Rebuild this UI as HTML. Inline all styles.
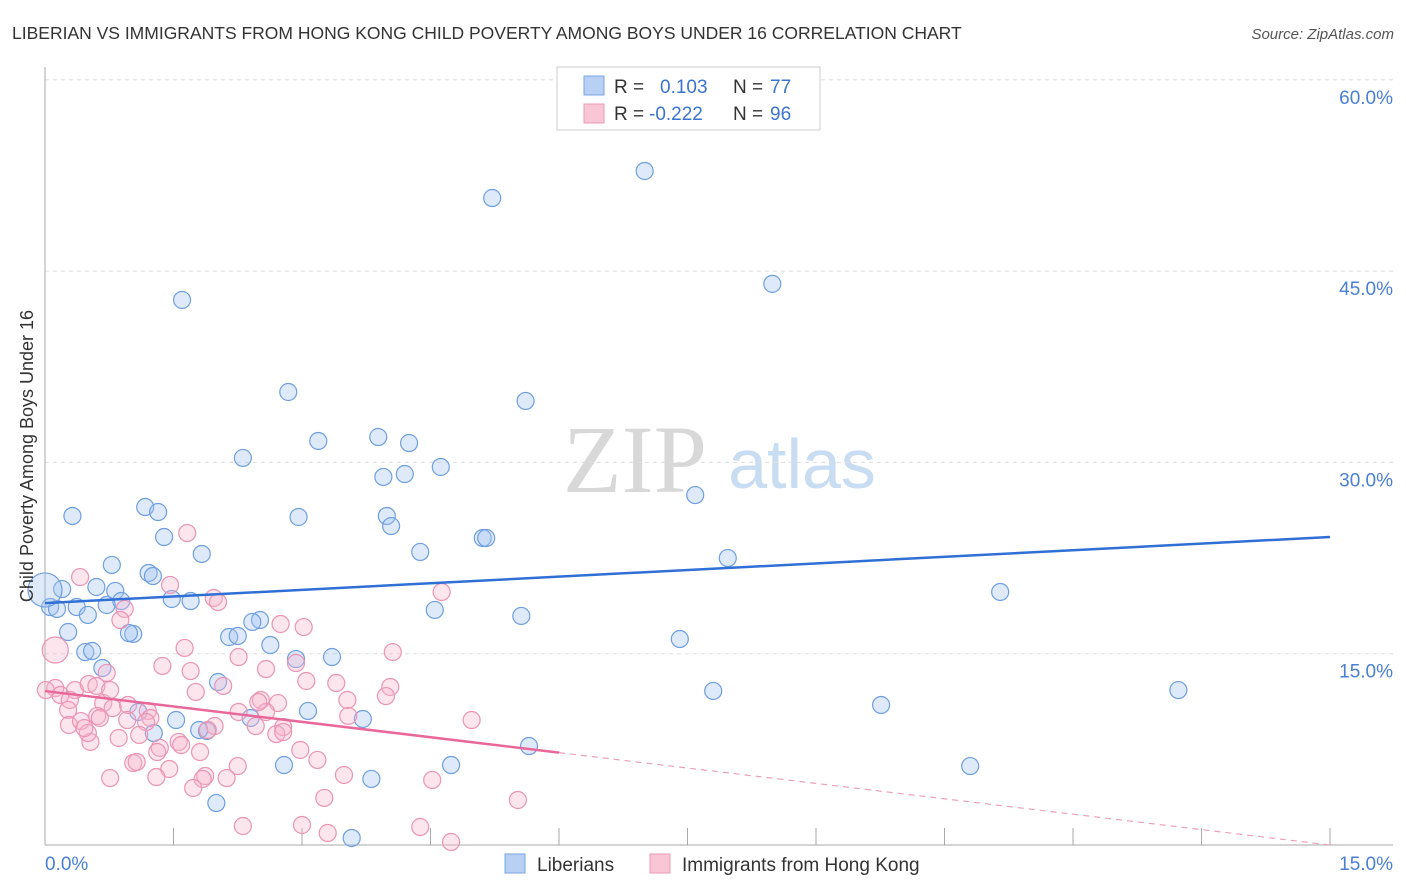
<!DOCTYPE html>
<html><head><meta charset="utf-8"><style>
body{margin:0;background:#fff;font-family:"Liberation Sans",sans-serif}
svg{display:block}
</style></head><body>
<svg id="chart" width="1406" height="892">
<text x="12" y="39" font-size="17.5" fill="#333">LIBERIAN VS IMMIGRANTS FROM HONG KONG CHILD POVERTY AMONG BOYS UNDER 16 CORRELATION CHART</text>
<text x="1394" y="39" font-size="15" fill="#555" font-style="italic" text-anchor="end">Source: ZipAtlas.com</text>
<g>
<text x="635" y="492" font-size="96" fill="#d8d8d8" font-family="Liberation Serif,serif" text-anchor="middle">ZIP</text>
<text x="802" y="488" font-size="70" fill="#c8dcf2" text-anchor="middle">atlas</text>
</g>
<g id="grid"></g>
<g id="axes"></g>
<g id="points"></g>
<g id="lines"></g>
<g>
<rect x="557" y="67" width="263" height="63" fill="#fff" stroke="#ccc"/>
<rect x="584" y="76" width="20" height="19" fill="#b7d0f3" stroke="#7aa6e3"/>
<rect x="584" y="104" width="20" height="19" fill="#f9c6d6" stroke="#ec9ab6"/>
<text x="614" y="93" font-size="19" fill="#333">R = </text><text x="660" y="93" font-size="19" fill="#3a74d0">0.103</text>
<text x="733" y="93" font-size="19" fill="#333">N = </text><text x="770" y="93" font-size="19" fill="#3a74d0">77</text>
<text x="614" y="120" font-size="19" fill="#333">R = </text><text x="649" y="120" font-size="19" fill="#3a74d0">-0.222</text>
<text x="733" y="120" font-size="19" fill="#333">N = </text><text x="770" y="120" font-size="19" fill="#3a74d0">96</text>
</g>
<g>
<rect x="505" y="854" width="20" height="19" fill="#b7d0f3" stroke="#7aa6e3"/>
<text x="537" y="871" font-size="19" fill="#333">Liberians</text>
<rect x="650" y="854" width="20" height="19" fill="#f9c6d6" stroke="#ec9ab6"/>
<text x="682" y="871" font-size="19" fill="#333">Immigrants from Hong Kong</text>
</g>
<text transform="translate(33,456) rotate(-90)" font-size="18" fill="#333" text-anchor="middle">Child Poverty Among Boys Under 16</text>
</svg>
<script>
const yTicks=[15,30,45,60];
const yTickLabels=["15.0%","30.0%","45.0%","60.0%"];
const xTicks=[0,1.5,3,4.5,6,7.5,9,10.5,12,13.5,15];
const blueX=[7.00,5.22,8.49,1.60,2.84,5.61,3.19,3.89,4.25,2.31,4.62,3.95,4.20,7.59,0.32,1.17,1.32,2.96,3.99,4.04,1.39,5.11,5.15,1.83,4.38,7.97,0.78,1.21,1.26,0.60,0.20,0.82,11.15,1.48,1.70,0.89,0.72,0.06,0.37,0.14,0.50,4.55,5.56,2.51,2.42,0.27,1.03,0.98,2.15,2.25,7.41,2.63,0.47,0.55,2.93,3.35,0.67,2.02,7.80,9.76,13.23,3.07,1.09,3.71,2.40,1.53,1.89,1.80,1.27,5.65,2.79,4.74,10.80,3.81,2.00,3.58,0.0];
const blueY=[52.85,50.73,44.0,42.74,35.52,34.82,31.68,31.99,31.52,30.35,29.64,28.86,29.09,27.44,25.80,26.50,26.11,25.72,25.80,25.01,24.15,24.07,24.07,22.82,22.98,22.50,21.96,21.33,21.09,20.23,20.07,19.92,19.84,19.29,19.13,19.13,18.82,18.66,18.66,18.51,18.04,18.43,17.96,17.64,17.49,16.70,16.55,16.62,16.31,16.39,16.15,15.68,15.13,15.21,14.58,14.74,13.88,12.78,12.08,10.98,12.15,10.51,10.43,9.88,9.96,9.80,8.94,9.02,8.78,7.76,6.27,6.27,6.19,5.18,3.29,0.55,20.0];
const pinkX=[1.66,0.41,1.46,1.97,2.02,0.93,4.63,0.88,2.75,3.02,1.63,4.06,1.37,1.70,2.26,2.58,2.93,0.72,0.12,0.12,0.18,0.35,0.51,0.60,0.29,3.05,3.40,2.08,1.76,2.52,2.72,3.53,4.03,3.98,0.27,0.68,0.79,0.97,1.20,1.23,2.58,3.54,4.98,0.28,0.42,0.61,0.96,1.18,1.98,1.90,2.46,2.78,2.26,0.86,0.53,0.50,1.10,1.56,1.59,1.81,1.34,1.31,2.70,2.78,1.03,1.07,1.45,2.25,1.87,1.84,3.18,3.49,0.76,1.30,2.12,4.52,1.73,3.26,5.52,2.31,3.00,3.30,4.38,4.74,0.46,0.64,0.76,0.01,2.49,2.98];
const pinkY=[24.46,21.01,20.39,19.37,19.05,18.51,19.84,17.64,17.33,17.09,15.45,15.13,14.04,13.64,14.74,13.80,14.27,13.49,15.29,12.31,11.76,12.15,12.62,12.47,11.37,12.86,12.70,12.47,12.00,11.37,11.13,11.37,12.39,11.68,10.59,11.13,10.74,10.98,10.51,9.96,10.43,10.12,9.80,9.41,9.72,10.12,9.80,9.64,9.33,9.02,9.33,9.25,10.43,8.39,8.08,8.78,8.63,8.08,7.84,7.29,7.61,7.29,8.70,8.86,6.43,6.51,5.96,6.19,5.41,5.18,6.67,5.49,5.25,5.33,5.25,5.10,4.47,3.69,3.53,1.49,1.57,0.94,1.41,0.24,9.17,9.96,12.15,12.15,11.21,7.45];
const blueTrend=[18.97,24.15];
const pinkTrend=[12.07,0.0];
const pinkSolidEnd=6;
const NS="http://www.w3.org/2000/svg";
const X0=45,X1=1330,Y0=845,YPX=191.3/15;
const xs=v=>X0+v/15*(X1-X0);
const ys=v=>Y0-v*YPX;
function mk(tag,attrs,parent){const e=document.createElementNS(NS,tag);for(const k in attrs)e.setAttribute(k,attrs[k]);parent.appendChild(e);return e;}
const grid=document.getElementById('grid'),axes=document.getElementById('axes'),pts=document.getElementById('points'),lines=document.getElementById('lines');
yTicks.forEach((t,i)=>{
 const l=mk('line',{x1:X0,x2:1393,y1:ys(t),y2:ys(t),stroke:'#ddd','stroke-dasharray':'4,4'},grid);
 
 
 const tx=mk('text',{x:1393,y:ys(t)+24,'font-size':19,fill:'#4a7fd6','text-anchor':'end'},axes);
 tx.textContent=yTickLabels[i];
 
 
});
const ax=mk('line',{x1:X0,x2:X0,y1:67,y2:Y0,stroke:'#aaa'},axes);


const bx=mk('line',{x1:X0,x2:1393,y1:Y0,y2:Y0,stroke:'#aaa'},axes);


xTicks.forEach(t=>{
 const l=mk('line',{x1:xs(t),x2:xs(t),y1:828,y2:Y0,stroke:'#aaa'},axes);
 
 
});
const xl0=mk('text',{x:45,y:870,'font-size':19,fill:'#4a7fd6'},axes);xl0.textContent='0.0%';


const xl1=mk('text',{x:1393,y:870,'font-size':19,fill:'#4a7fd6','text-anchor':'end'},axes);xl1.textContent='15.0%';


blueX.forEach((v,i)=>{
 const big=i===blueX.length-1;
 const c=mk('circle',{cx:xs(v),cy:ys(blueY[i]),r:big?17:8.5,fill:'rgba(160,195,240,0.35)',stroke:'#6f9fe0','stroke-width':1.2},pts);
 
 
});
pinkX.forEach((v,i)=>{
 const big=i===18;
 const c=mk('circle',{cx:xs(v),cy:ys(pinkY[i]),r:big?13:8.5,fill:'rgba(246,180,204,0.35)',stroke:'#eb94b4','stroke-width':1.2},pts);
 
 
});
const bl=mk('line',{x1:xs(0),y1:ys(blueTrend[0]),x2:xs(15),y2:ys(blueTrend[1]),stroke:'#2f6fd6','stroke-width':2.5},lines);


const pAt=v=>pinkTrend[0]+(pinkTrend[1]-pinkTrend[0])*v/15;
const pl=mk('line',{x1:xs(0),y1:ys(pAt(0)),x2:xs(pinkSolidEnd),y2:ys(pAt(pinkSolidEnd)),stroke:'#e8689a','stroke-width':2.5},lines);


const pd=mk('line',{x1:xs(pinkSolidEnd),y1:ys(pAt(pinkSolidEnd)),x2:xs(15),y2:ys(pAt(15)),stroke:'#eba0bc','stroke-width':1.2,'stroke-dasharray':'6,5'},lines);


</script>
</body></html>
